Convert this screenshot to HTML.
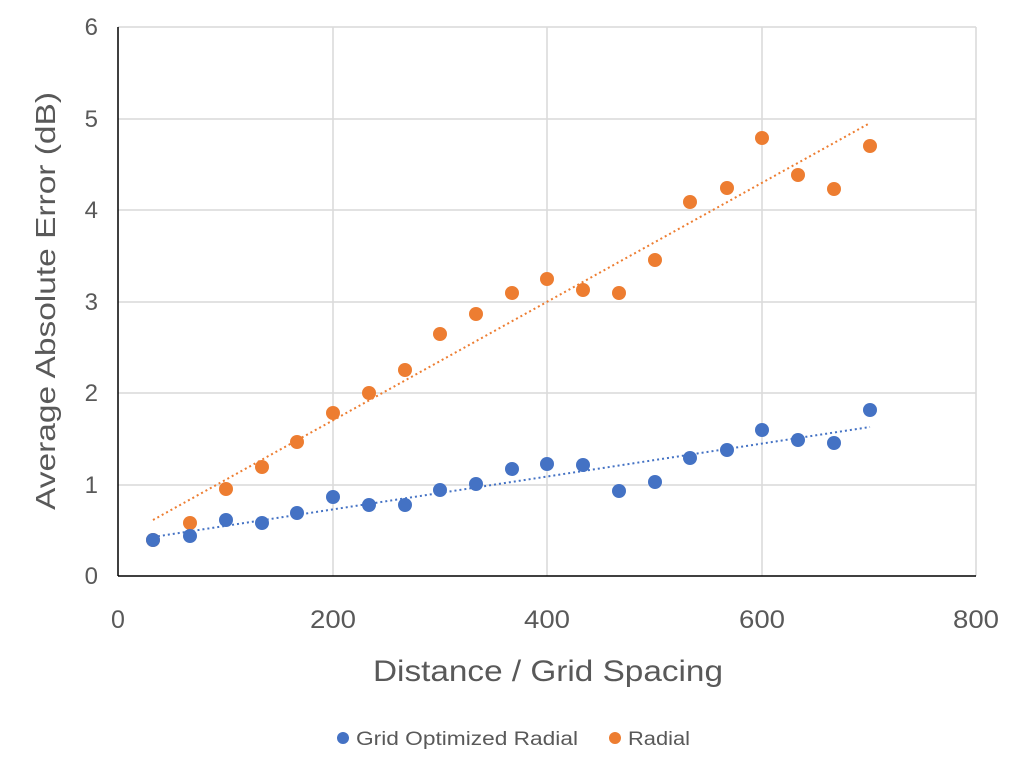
<!DOCTYPE html>
<html><head><meta charset="utf-8"><style>body{margin:0;background:#fff}svg{display:block}</style></head><body>
<svg width="1024" height="772" xmlns="http://www.w3.org/2000/svg" font-family="Liberation Sans, sans-serif">
<rect width="1024" height="772" fill="#fff"/>
<g stroke="#d9d9d9" stroke-width="1.5">
<line x1="118" y1="27" x2="976" y2="27"/><line x1="118" y1="119" x2="976" y2="119"/><line x1="118" y1="210" x2="976" y2="210"/><line x1="118" y1="302" x2="976" y2="302"/><line x1="118" y1="393" x2="976" y2="393"/><line x1="118" y1="485" x2="976" y2="485"/>
<line x1="333" y1="27" x2="333" y2="576"/><line x1="547" y1="27" x2="547" y2="576"/><line x1="762" y1="27" x2="762" y2="576"/><line x1="976" y1="27" x2="976" y2="576"/>
</g>
<g stroke="#000" stroke-width="1.5"><line x1="118" y1="27" x2="118" y2="576"/><line x1="118" y1="576" x2="976" y2="576"/></g>
<g fill="#595959" font-size="24" text-anchor="end">
<text x="98" y="35">6</text><text x="98" y="127">5</text><text x="98" y="218">4</text><text x="98" y="310">3</text><text x="98" y="401">2</text><text x="98" y="493">1</text><text x="98" y="584">0</text>
</g>
<g fill="#595959" font-size="25" text-anchor="middle">
<text x="118" y="628">0</text><text x="333" y="628" textLength="46" lengthAdjust="spacingAndGlyphs">200</text><text x="547" y="628" textLength="46" lengthAdjust="spacingAndGlyphs">400</text><text x="762" y="628" textLength="46" lengthAdjust="spacingAndGlyphs">600</text><text x="976" y="628" textLength="46" lengthAdjust="spacingAndGlyphs">800</text>
</g>
<text x="373" y="681" fill="#595959" font-size="30" textLength="350" lengthAdjust="spacingAndGlyphs">Distance / Grid Spacing</text>
<text transform="translate(55,510) rotate(-90)" fill="#595959" font-size="28" textLength="418" lengthAdjust="spacingAndGlyphs">Average Absolute Error (dB)</text>
<line x1="153" y1="520" x2="870" y2="123" stroke="#ed7d31" stroke-width="2" stroke-dasharray="2,3"/>
<line x1="153" y1="537" x2="870" y2="427" stroke="#4472c4" stroke-width="2" stroke-dasharray="2,3"/>
<g fill="#ed7d31">
<circle cx="153" cy="540" r="7"/><circle cx="190" cy="523" r="7"/><circle cx="226" cy="489" r="7"/><circle cx="262" cy="467" r="7"/><circle cx="297" cy="442" r="7"/><circle cx="333" cy="413" r="7"/><circle cx="369" cy="393" r="7"/><circle cx="405" cy="370" r="7"/><circle cx="440" cy="334" r="7"/><circle cx="476" cy="314" r="7"/><circle cx="512" cy="293" r="7"/><circle cx="547" cy="279" r="7"/><circle cx="583" cy="290" r="7"/><circle cx="619" cy="293" r="7"/><circle cx="655" cy="260" r="7"/><circle cx="690" cy="202" r="7"/><circle cx="727" cy="188" r="7"/><circle cx="762" cy="138" r="7"/><circle cx="798" cy="175" r="7"/><circle cx="834" cy="189" r="7"/><circle cx="870" cy="146" r="7"/>
</g>
<g fill="#4472c4">
<circle cx="153" cy="540" r="7"/><circle cx="190" cy="536" r="7"/><circle cx="226" cy="520" r="7"/><circle cx="262" cy="523" r="7"/><circle cx="297" cy="513" r="7"/><circle cx="333" cy="497" r="7"/><circle cx="369" cy="505" r="7"/><circle cx="405" cy="505" r="7"/><circle cx="440" cy="490" r="7"/><circle cx="476" cy="484" r="7"/><circle cx="512" cy="469" r="7"/><circle cx="547" cy="464" r="7"/><circle cx="583" cy="465" r="7"/><circle cx="619" cy="491" r="7"/><circle cx="655" cy="482" r="7"/><circle cx="690" cy="458" r="7"/><circle cx="727" cy="450" r="7"/><circle cx="762" cy="430" r="7"/><circle cx="798" cy="440" r="7"/><circle cx="834" cy="443" r="7"/><circle cx="870" cy="410" r="7"/>
</g>
<circle cx="343" cy="738" r="6" fill="#4472c4"/>
<text x="356" y="745" fill="#595959" font-size="19" textLength="222" lengthAdjust="spacingAndGlyphs">Grid Optimized Radial</text>
<circle cx="615" cy="738" r="6" fill="#ed7d31"/>
<text x="628" y="745" fill="#595959" font-size="19" textLength="62" lengthAdjust="spacingAndGlyphs">Radial</text>
</svg>
</body></html>
